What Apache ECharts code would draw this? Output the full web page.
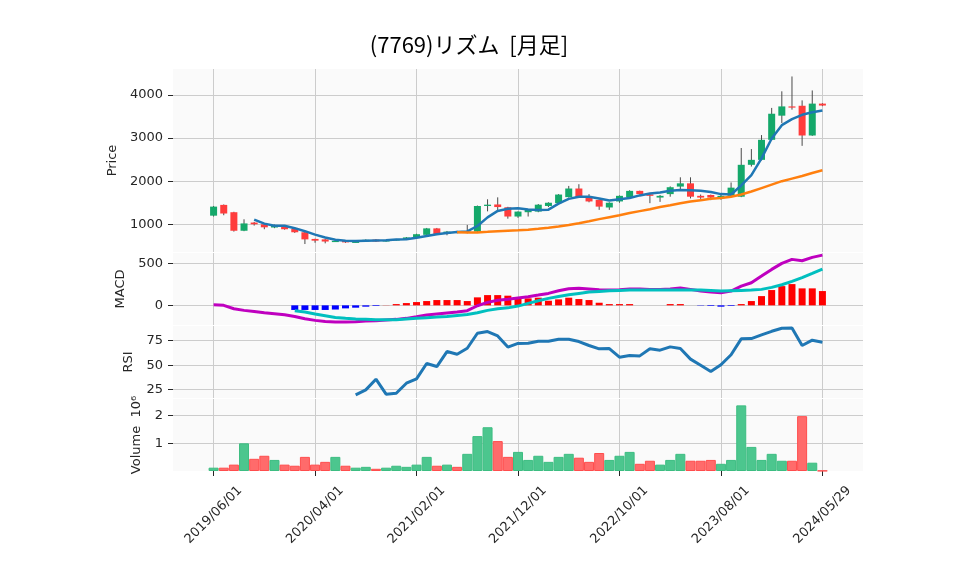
<!DOCTYPE html>
<html><head><meta charset="utf-8">
<script src="https://cdn.jsdelivr.net/npm/echarts@6/dist/echarts.min.js"></script>
<style>html,body{margin:0;padding:0;background:#fff}#c{width:958px;height:575px}</style>
</head><body><div id="c"></div>
<script>
// ---- data ----
const categories = [
 '2019/06/01','2019/07/01','2019/08/01','2019/09/01','2019/10/01','2019/11/01','2019/12/01',
 '2020/01/01','2020/02/01','2020/03/01','2020/04/01','2020/05/01','2020/06/01','2020/07/01','2020/08/01','2020/09/01','2020/10/01','2020/11/01','2020/12/01',
 '2021/01/01','2021/02/01','2021/03/01','2021/04/01','2021/05/01','2021/06/01','2021/07/01','2021/08/01','2021/09/01','2021/10/01','2021/11/01','2021/12/01',
 '2022/01/01','2022/02/01','2022/03/01','2022/04/01','2022/05/01','2022/06/01','2022/07/01','2022/08/01','2022/09/01','2022/10/01','2022/11/01','2022/12/01',
 '2023/01/01','2023/02/01','2023/03/01','2023/04/01','2023/05/01','2023/06/01','2023/07/01','2023/08/01','2023/09/01','2023/10/01','2023/11/01','2023/12/01',
 '2024/01/01','2024/02/01','2024/03/01','2024/04/01','2024/05/01','2024/05/29'];
const tickLabels = ['2019/06/01','2020/04/01','2021/02/01','2021/12/01','2022/10/01','2023/08/01','2024/05/29'];

const opens  = [1200,1450,1280,850,1040,1000,925,945,890,815,660,650,600,620,585,600,645,600,630,650,680,755,905,775,830,800,830,1425,1460,1395,1180,1280,1295,1425,1490,1630,1830,1625,1565,1390,1530,1630,1775,1695,1620,1700,1875,1950,1660,1680,1605,1660,1640,2380,2495,2960,3520,3735,3750,3060,3800];
const closes = [1410,1250,850,1020,1000,930,985,885,815,650,620,600,615,580,595,640,600,630,650,695,770,905,775,830,810,830,1425,1455,1400,1180,1295,1335,1455,1500,1690,1830,1630,1530,1410,1500,1660,1775,1700,1660,1660,1860,1950,1640,1620,1620,1660,1850,2380,2495,2960,3565,3735,3712,3060,3800,3755];
const lows   = [1180,1210,830,840,970,885,910,875,800,542,572,558,590,570,575,590,590,595,620,640,670,745,765,745,790,790,820,1300,1300,1130,1150,1180,1280,1400,1470,1620,1610,1510,1335,1335,1500,1620,1690,1490,1520,1640,1780,1600,1590,1560,1570,1640,1630,2340,2480,2950,3350,3660,2820,3050,3740];
const highs  = [1425,1460,1290,1116,1055,1010,995,955,900,825,665,660,630,625,605,650,655,640,660,705,780,915,915,845,850,985,1435,1580,1625,1405,1300,1345,1470,1510,1700,1890,1930,1700,1575,1510,1670,1790,1780,1700,1680,1880,2090,2090,1690,1690,1680,1970,2770,2745,3070,3700,4085,4430,3875,4105,3810];
const volumes = [0.12,0.12,0.23,1.00,0.44,0.55,0.40,0.23,0.19,0.51,0.23,0.33,0.51,0.19,0.12,0.15,0.08,0.12,0.19,0.15,0.23,0.51,0.19,0.23,0.15,0.62,1.26,1.58,1.08,0.51,0.69,0.40,0.55,0.33,0.51,0.62,0.48,0.33,0.65,0.40,0.55,0.69,0.26,0.37,0.23,0.40,0.62,0.37,0.37,0.40,0.26,0.40,2.37,0.87,0.40,0.62,0.37,0.37,1.98,0.30,0.01]; // x10^6
const ma5 = [null,null,null,null,1110,1015,965,965,910,840,760,695,640,620,615,620,625,630,645,655,690,728,770,800,820,835,960,1160,1310,1360,1370,1345,1330,1340,1480,1590,1640,1640,1600,1550,1580,1610,1670,1715,1740,1780,1795,1790,1780,1750,1700,1690,1900,2140,2530,2990,3300,3440,3540,3600,3640];
const ma25 = [null,null,null,null,null,null,null,null,null,null,null,null,null,null,null,null,null,null,null,null,null,null,null,null,813,808,812,825,840,852,862,875,895,920,950,985,1025,1070,1120,1165,1210,1260,1305,1350,1400,1440,1490,1530,1560,1590,1610,1640,1690,1760,1840,1920,2000,2060,2120,2190,2255];
const macd = [7,0,-40,-60,-72,-88,-100,-112,-132,-160,-179,-191,-199,-199,-195,-187,-183,-175,-167,-155,-136,-116,-104,-92,-80,-64,-5,35,60,72,88,103,122,142,174,198,202,194,186,182,186,194,194,190,190,194,206,190,170,158,150,170,229,269,348,428,499,547,531,571,598];
const signal = [null,null,null,null,null,null,null,null,-64,-80,-104,-124,-144,-155,-163,-167,-171,-171,-171,-163,-155,-147,-140,-132,-120,-108,-88,-60,-40,-30,-9,23,55,83,106,126,142,158,166,174,178,182,182,182,182,182,184,184,182,176,170,174,178,182,190,214,245,285,329,380,432];
const hist = [null,null,null,null,null,null,null,null,-55,-55,-55,-55,-50,-36,-28,-16,-8,2,15,27,39,51,63,63,63,51,95,122,122,115,95,83,91,55,71,91,75,63,31,15,15,15,0,0,0,15,15,0,-4,-8,-16,-8,15,51,110,182,229,253,202,202,170];
const rsi = [null,null,null,null,null,null,null,null,null,null,null,null,null,null,19.7,24.8,35.7,20.4,21.4,31.6,36.0,51.7,48.6,63.9,61.2,67.3,82.6,84.3,79.9,68.5,72.2,72.4,74.5,74.5,76.5,76.5,74.1,70.1,66.7,67.0,58.2,59.9,59.5,66.7,65.3,68.7,67.0,56.2,50.0,43.6,50.4,60.6,76.9,77.2,80.9,84.6,87.7,88.0,70.1,75.5,73.5];
const priceTicks = [1000,2000,3000,4000];
const macdTicks = [0,500];
const rsiTicks = [25,50,75];
const volTicks = [1,2];

// ---- chart ----
const PAD = 4;
const axisCats = [];
for (let k = 0; k < PAD; k++) axisCats.push('_L' + k);
categories.forEach(c => axisCats.push(c));
for (let k = 0; k < PAD; k++) axisCats.push('_R' + k);
const isTick = (idx, val) => tickLabels.indexOf(val) >= 0;

const UP = '#14a86a', DOWN = '#ff3c3c';
const VUP = '#4cc68e', VUPB = '#3dbd82', VDN = '#ff6b6b', VDNB = '#ff4d4d';
const TXT = '#262626';
const FONT = 'DejaVu Sans';

const grids = [
  {left:173, top:69, width:690, height:183},
  {left:173, top:253, width:690, height:72},
  {left:173, top:326, width:690, height:72},
  {left:173, top:399, width:690, height:72}
];
grids.forEach(g => { g.show = true; g.backgroundColor = '#fafafa'; g.borderWidth = 0; });

const xAxes = grids.map((g, gi) => ({
  type:'category', gridIndex: gi, data: axisCats, boundaryGap:false,
  axisLine:{show:false},
  axisTick:{show: gi === 3, interval: isTick, length:5, lineStyle:{color:TXT, width:1}},
  axisLabel:{show: gi === 3, interval: isTick, rotate:45, align:'center', verticalAlign:'middle',
             margin:44, fontSize:13, fontFamily:FONT, color:TXT},
  splitLine:{show:true, interval: isTick, lineStyle:{color:'#cccccc', width:1}}
}));

const plainFmt = v => String(Math.round(v));
function yAx(gi, min, max, ticks, name, gap) {
  return {
    type:'value', gridIndex: gi, min, max, scale:true,
    name, nameLocation:'middle', nameRotate:90, nameGap: gap,
    nameTextStyle:{fontSize:13, fontFamily:FONT, color:TXT},
    axisLine:{show:false},
    axisTick:{show:true, length:5, customValues: ticks, lineStyle:{color:TXT}},
    axisLabel:{customValues: ticks, margin:10, fontSize:13, fontFamily:FONT, color:TXT, formatter: plainFmt},
    splitLine:{show:true, lineStyle:{color:'#cccccc', width:1}}
  };
}
const yAxes = [
  yAx(0, 357, 4603, priceTicks, 'Price', 52),
  yAx(1, -234, 623, macdTicks, 'MACD', 44),
  yAx(2, 16.5, 90, rsiTicks, 'RSI', 36),
  yAx(3, 0, 2.6, volTicks, 'Volume  10\u2076', 30)
];

const candleData = categories.map((c, i) => [i + PAD, opens[i], closes[i], lows[i], highs[i]]);
function renderCandle(params, api) {
  const x = api.value(0);
  const o = api.value(1), c = api.value(2), l = api.value(3), h = api.value(4);
  const pO = api.coord([x, o]), pC = api.coord([x, c]), pL = api.coord([x, l]), pH = api.coord([x, h]);
  const w = 7;
  const up = c >= o;
  const top = Math.min(pO[1], pC[1]);
  const hgt = Math.max(1.2, Math.abs(pO[1] - pC[1]));
  return {type:'group', children:[
    {type:'line', shape:{x1:pH[0], y1:pH[1], x2:pL[0], y2:pL[1]}, style:{stroke:'#4a4a4a', lineWidth:1}},
    {type:'rect', shape:{x:pO[0] - w/2, y:top, width:w, height:hgt}, style:{fill: up ? UP : DOWN}}
  ]};
}
const pairs = arr => arr.map((v, i) => v === null ? null : [i + PAD, v]).filter(p => p !== null);

const option = {
  animation:false,
  backgroundColor:'#ffffff',
  grid: grids,
  xAxis: xAxes,
  yAxis: yAxes,
  graphic:[{type:'text', x:469, y:45, style:{text:'(7769)リズム  [月足]', fontSize:22,
            fontFamily:'Noto Sans CJK JP', fill:'#000', textAlign:'center', textVerticalAlign:'middle'}}],
  series:[
    {type:'custom', xAxisIndex:0, yAxisIndex:0, renderItem: renderCandle, data: candleData,
     encode:{x:0, y:[1,2,3,4]}, clip:true, z:2},
    {type:'line', xAxisIndex:0, yAxisIndex:0, data: pairs(ma5), showSymbol:false, symbol:'none',
     lineStyle:{color:'#1f77b4', width:2.5}, z:3},
    {type:'line', xAxisIndex:0, yAxisIndex:0, data: pairs(ma25), showSymbol:false, symbol:'none',
     lineStyle:{color:'#ff7f0e', width:2.5}, z:3},
    {type:'bar', xAxisIndex:1, yAxisIndex:1, barWidth:7,
     data: hist.map((v, i) => v === null ? null : {value:[i + PAD, v], itemStyle:{color: v >= 0 ? '#ff0000' : '#0000ff'}}).filter(d => d !== null), z:2},
    {type:'line', xAxisIndex:1, yAxisIndex:1, data: pairs(macd), showSymbol:false, symbol:'none',
     lineStyle:{color:'#bf00bf', width:3}, z:3},
    {type:'line', xAxisIndex:1, yAxisIndex:1, data: pairs(signal), showSymbol:false, symbol:'none',
     lineStyle:{color:'#00bfbf', width:3}, z:4},
    {type:'line', xAxisIndex:2, yAxisIndex:2, data: pairs(rsi), showSymbol:false, symbol:'none',
     lineStyle:{color:'#1f77b4', width:3}, z:3},
    {type:'bar', xAxisIndex:3, yAxisIndex:3, barWidth:10,
     data: volumes.map((v, i) => {
       const up = closes[i] >= opens[i];
       return {value:[i + PAD, v], itemStyle:{color: up ? VUP : VDN, borderColor: up ? VUPB : VDNB, borderWidth:1}};
     }), z:2}
  ]
};
const chart = echarts.init(document.getElementById('c'), null, {renderer:'canvas'});
chart.setOption(option);
</script>
</body></html>
